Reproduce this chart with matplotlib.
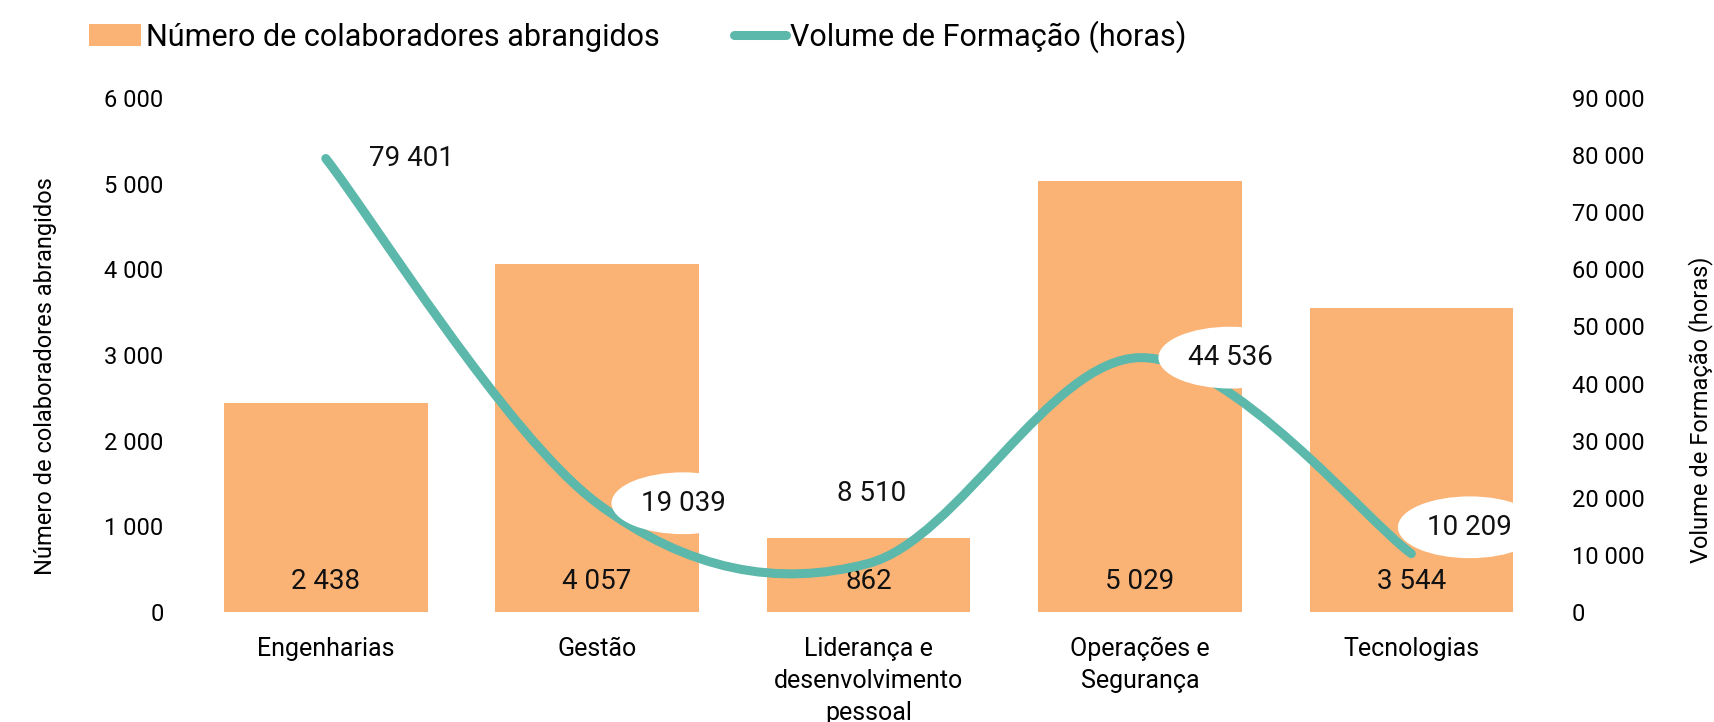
import numpy as np
import matplotlib
matplotlib.use('Agg')
import matplotlib.pyplot as plt
from matplotlib.path import Path
from matplotlib.patches import PathPatch, Patch
from matplotlib.lines import Line2D
from matplotlib.ticker import FuncFormatter, MultipleLocator

categories = ['Engenharias', 'Gestão', 'Liderança e\ndesenvolvimento\npessoal',
              'Operações e\nSegurança', 'Tecnologias']
colaboradores = [2438, 4057, 862, 5029, 3544]
horas = [79401, 19039, 8510, 44536, 10209]

bar_color = '#FAB375'
line_color = '#5BB8AA'
# label offsets (points) for the line values
hour_offsets = [(62, 0), (62, 0), (2, 50), (65, 0), (42, 19)]

plt.rcParams['font.family'] = ['Roboto', 'DejaVu Sans']


def fmt(v, pos=None):
    return '{:,}'.format(int(round(v))).replace(',', ' ')


def smooth_path(xs, ys):
    # bezier through every point, catmull-rom style like spreadsheet smoothing
    pts = np.column_stack([xs, ys]).astype(float)
    n = len(pts)
    verts = [pts[0]]
    codes = [Path.MOVETO]
    for i in range(n - 1):
        p0 = pts[max(i - 1, 0)]
        p1 = pts[i]
        p2 = pts[i + 1]
        p3 = pts[min(i + 2, n - 1)]
        c1 = p1 + (p2 - p0) / 6.0
        c2 = p2 - (p3 - p1) / 6.0
        verts += [c1, c2, p2]
        codes += [Path.CURVE4] * 3
    return Path(verts, codes)


fig = plt.figure(figsize=(17.14, 7.22), dpi=100)
ax = fig.add_axes([0.1109, 0.1524, 0.7917, 0.7119])
ax2 = ax.twinx()

x = np.arange(len(categories))
ax.bar(x, colaboradores, 0.75, color=bar_color, zorder=1)
ax.set_xlim(-0.5, len(categories) - 0.5)
ax.set_ylim(0, 6000)
ax2.set_ylim(0, 90000)
ax.yaxis.set_major_locator(MultipleLocator(1000))
ax2.yaxis.set_major_locator(MultipleLocator(10000))
ax.yaxis.set_major_formatter(FuncFormatter(fmt))
ax2.yaxis.set_major_formatter(FuncFormatter(fmt))

for a in (ax, ax2):
    for s in a.spines.values():
        s.set_visible(False)
ax.tick_params(axis='y', length=0, pad=19, labelsize=17)
ax2.tick_params(axis='y', length=0, pad=18, labelsize=17)
ax.tick_params(axis='x', length=0, pad=18, labelsize=18)
ax.set_xticks(x)
ax.set_xticklabels(categories, linespacing=1.42)

ax.set_ylabel('Número de colaboradores abrangidos', fontsize=17)
ax2.set_ylabel('Volume de Formação (horas)', fontsize=17)
ax.yaxis.set_label_coords(-0.098, 0.459)
ax2.yaxis.set_label_coords(1.104, 0.393)

# bar values sit near the base of each bar
for xi, v in zip(x, colaboradores):
    ax.annotate(fmt(v), (xi, 0), xytext=(0, 22), textcoords='offset points',
                ha='center', va='center', fontsize=20, color='#111111')

path = smooth_path(x, horas)
ax2.add_patch(PathPatch(path, facecolor='none', edgecolor=line_color,
                        lw=6.5, capstyle='round', joinstyle='round', zorder=3))

for xi, v, off in zip(x, horas, hour_offsets):
    ax2.annotate(fmt(v), (xi, v), xytext=off, textcoords='offset points',
                 ha='center', va='center', fontsize=20, color='#111111', zorder=4,
                 bbox=dict(boxstyle='ellipse,pad=0.3', fc='white', ec='none'))

handles = [Patch(facecolor=bar_color, edgecolor='none'),
           Line2D([0], [0], color=line_color, lw=6.5, solid_capstyle='round')]
fig.legend(handles, ['Número de colaboradores abrangidos', 'Volume de Formação (horas)'],
           loc='upper left', bbox_to_anchor=(0.036, 1.01), ncol=2, frameon=False,
           fontsize=22, handlelength=1.7, handleheight=0.72, handletextpad=0.15,
           columnspacing=2.43)

fig.savefig('out.png', dpi=100)
